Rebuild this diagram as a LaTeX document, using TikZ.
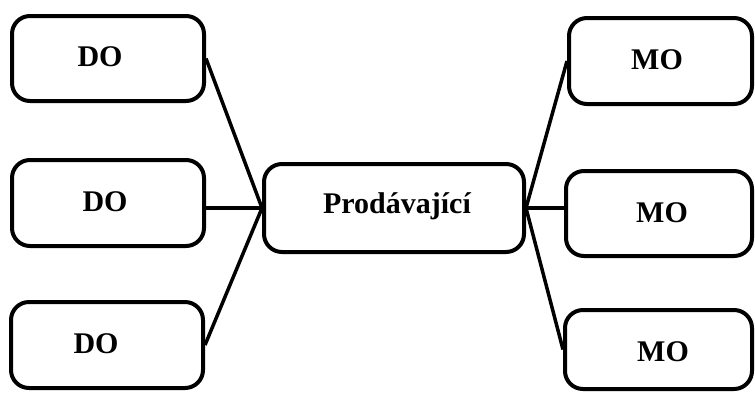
\documentclass[tikz,border=0pt]{standalone}
\usepackage{fontspec}
\setmainfont{Liberation Serif}
\begin{document}
\begin{tikzpicture}[x=1pt,y=-1pt,
  box/.style={draw=black, line width=4pt, rounded corners=18pt, inner sep=0pt},
  lbl/.style={font=\fontsize{30}{33}\selectfont\bfseries, inner sep=0pt},
  conn/.style={line width=3.5pt}]
\useasboundingbox (0,0) rectangle (755,392);
% boxes
\node[box, minimum width=192pt, minimum height=85pt] (d1) at (108,58.5) {};
\node[box, minimum width=192pt, minimum height=86pt] (d2) at (108,203) {};
\node[box, minimum width=192pt, minimum height=86pt] (d3) at (107,345) {};
\node[box, minimum width=260pt, minimum height=88pt] (c) at (394,208) {};
\node[box, minimum width=183pt, minimum height=86pt] (m1) at (660.5,61) {};
\node[box, minimum width=186pt, minimum height=85pt] (m2) at (659,213.5) {};
\node[box, minimum width=187pt, minimum height=79pt] (m3) at (658.5,349.5) {};
% labels
\node[lbl] (d1t) at (100,57) {DO};
\node[lbl] (d2t) at (105,202) {DO};
\node[lbl] (d3t) at (96,344) {DO};
\node[lbl] (ct) at (397,206) {Prodávající};
\node[lbl] (m1t) at (657,60) {MO};
\node[lbl] (m2t) at (662,213) {MO};
\node[lbl] (m3t) at (663,352) {MO};
% connectors
\draw[conn] (c.west) -- (d1.east);
\draw[conn] (c.west) -- (c.west -| d2.east);
\draw[conn] (c.west) -- (d3.east);
\draw[conn] (c.east) -- (m1.west);
\draw[conn] (c.east) -- (c.east -| m2.west);
\draw[conn] (c.east) -- (m3.west);
\end{tikzpicture}
\end{document}
